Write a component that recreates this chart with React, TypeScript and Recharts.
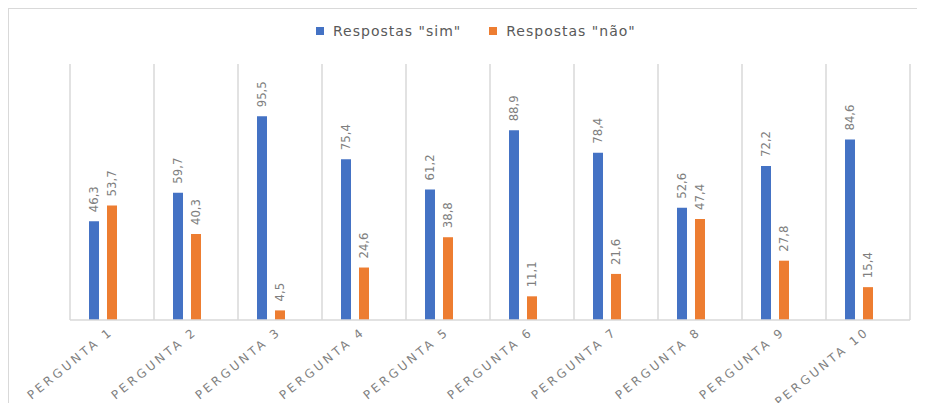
import { BarChart, Bar, XAxis, YAxis, CartesianGrid, LabelList } from 'recharts';

const perguntas = [
  'PERGUNTA 1',
  'PERGUNTA 2',
  'PERGUNTA 3',
  'PERGUNTA 4',
  'PERGUNTA 5',
  'PERGUNTA 6',
  'PERGUNTA 7',
  'PERGUNTA 8',
  'PERGUNTA 9',
  'PERGUNTA 10',
];
const respostasSim = [46.3, 59.7, 95.5, 75.4, 61.2, 88.9, 78.4, 52.6, 72.2, 84.6];
const respostasNao = [53.7, 40.3, 4.5, 24.6, 38.8, 11.1, 21.6, 47.4, 27.8, 15.4];
// the original sheet has a third, empty series that pushes the pair left
const serieVazia = [null, null, null, null, null, null, null, null, null, null];

const data = perguntas.map((p, i) => ({
  pergunta: p,
  sim: respostasSim[i],
  nao: respostasNao[i],
  vazia: serieVazia[i],
}));

const AZUL = '#4472C4';
const LARANJA = '#ED7D31';
const GRADE = '#d9d9d9';
const TEXTO = '#595959';
const ROTULO = '#7f7f7f';

function fmt(v: number) {
  return v.toFixed(1).replace('.', ',');
}

function ValueLabel(props: any) {
  const { x, y, width, value } = props;
  if (value == null) return null;
  const cx = x + width / 2;
  const cy = y - 9;
  return (
    <text
      x={cx}
      y={cy}
      transform={`rotate(-90 ${cx} ${cy})`}
      textAnchor="start"
      dominantBaseline="central"
      fill={ROTULO}
      fontSize={13}
      fontFamily="'DejaVu Sans Condensed', 'Liberation Sans Narrow', 'DejaVu Sans', sans-serif"
      style={{ fontStretch: 'condensed' }}
    >
      {fmt(value)}
    </text>
  );
}

function CategoryTick(props: any) {
  const { x, y, payload } = props;
  const tx = x + 2;
  const ty = y + 5;
  return (
    <text
      x={tx}
      y={ty}
      transform={`rotate(-39 ${tx} ${ty})`}
      textAnchor="end"
      fill={ROTULO}
      fontSize={12}
      letterSpacing={3}
      fontFamily="'DejaVu Sans', sans-serif"
    >
      {payload.value}
    </text>
  );
}

// gridlines sit on the edges of each category band, as in Excel
function gridAtBandEdges({ offset }: any) {
  const n = perguntas.length;
  const step = offset.width / n;
  return Array.from({ length: n + 1 }, (_, i) => offset.left + i * step);
}

function Legenda() {
  const item = (cor: string, texto: string) => (
    <div style={{ display: 'flex', alignItems: 'center' }}>
      <span style={{ width: 8, height: 8, background: cor, marginRight: 9, display: 'inline-block' }} />
      <span style={{ fontSize: 14, letterSpacing: 1, color: TEXTO }}>{texto}</span>
    </div>
  );
  return (
    <div
      style={{
        position: 'absolute',
        left: 307,
        top: 13,
        display: 'flex',
        gap: 28,
        fontFamily: "'DejaVu Sans', sans-serif",
        lineHeight: '18px',
      }}
    >
      {item(AZUL, 'Respostas "sim"')}
      {item(LARANJA, 'Respostas "não"')}
    </div>
  );
}

export default function App() {
  return (
    <div
      style={{
        position: 'relative',
        width: 916,
        height: 402,
        marginBottom: -8,
        borderTop: `1px solid ${GRADE}`,
        borderLeft: `1px solid ${GRADE}`,
        background: '#fff',
      }}
    >
      <Legenda />
      <BarChart
        width={916}
        height={402}
        data={data}
        margin={{ top: 55, right: 15, left: 61, bottom: 0 }}
        barSize={10}
        barGap={8}
      >
        <CartesianGrid
          horizontal={false}
          stroke={GRADE}
          strokeWidth={1.5}
          verticalCoordinatesGenerator={gridAtBandEdges}
        />
        <XAxis
          dataKey="pergunta"
          height={91}
          interval={0}
          tickLine={false}
          axisLine={{ stroke: GRADE, strokeWidth: 1.5 }}
          tick={<CategoryTick />}
        />
        <YAxis hide domain={[0, 120]} />
        <Bar dataKey="sim" fill={AZUL} isAnimationActive={false}>
          <LabelList dataKey="sim" content={<ValueLabel />} />
        </Bar>
        <Bar dataKey="nao" fill={LARANJA} isAnimationActive={false}>
          <LabelList dataKey="nao" content={<ValueLabel />} />
        </Bar>
        <Bar dataKey="vazia" fill="transparent" isAnimationActive={false} />
      </BarChart>
    </div>
  );
}
